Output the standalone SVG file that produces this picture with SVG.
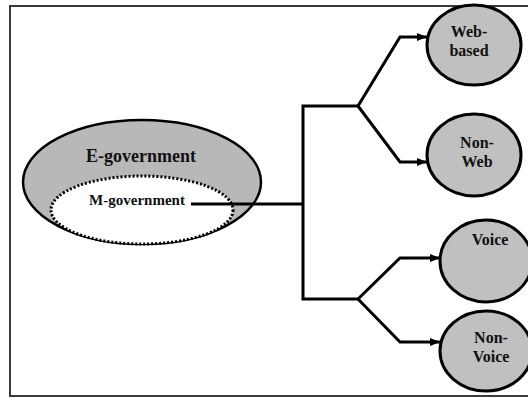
<svg xmlns="http://www.w3.org/2000/svg" width="528" height="398" viewBox="0 0 528 398">
  <defs>
    <marker id="arrow" markerWidth="10" markerHeight="8" refX="10" refY="4" orient="auto" markerUnits="userSpaceOnUse">
      <path d="M0,0 L10,4 L0,8 Z" fill="#000"/>
    </marker>
    <style>
      .frame { fill: #fff; stroke: #3a3a3a; stroke-width: 2; }
      .leaf { fill: #c0c0c0; stroke: #000; stroke-width: 3; }
      .outer { fill: #b8b8b8; stroke: #000; stroke-width: 2.5; }
      .inner { fill: #fff; stroke: #000; stroke-width: 3; stroke-dasharray: 2 2; }
      .lbl { font-family: "Liberation Serif", "Times New Roman", serif; font-weight: bold; fill: #111; text-anchor: middle; }
      .wire { fill: none; stroke: #000; stroke-width: 3; stroke-linejoin: miter; }
    </style>
  </defs>

  <rect class="frame" x="10" y="6" width="540" height="390"/>

  <g id="e-government">
    <ellipse class="outer" cx="142" cy="182" rx="119" ry="62"/>
    <text class="lbl" x="141" y="162" font-size="18">E-government</text>
  </g>

  <g id="m-government">
    <ellipse class="inner" cx="142" cy="210" rx="91" ry="34"/>
    <text class="lbl" x="137" y="205" font-size="15">M-government</text>
  </g>

  <g id="connectors">
    <!-- trunk from M-government to the two branch points -->
    <path class="wire" d="M191,204 H303"/>
    <path class="wire" d="M358,106 H303 V299 H358"/>
    <!-- upper fork -->
    <path class="wire" d="M358,106 L400,37 H427" marker-end="url(#arrow)"/>
    <path class="wire" d="M358,106 L400,162 H427" marker-end="url(#arrow)"/>
    <!-- lower fork -->
    <path class="wire" d="M358,299 L400,258 H440" marker-end="url(#arrow)"/>
    <path class="wire" d="M358,299 L400,342 H440" marker-end="url(#arrow)"/>
  </g>

  <g id="web-based">
    <ellipse class="leaf" cx="474" cy="45" rx="47" ry="40"/>
    <text class="lbl" x="469" y="37" font-size="16">Web-</text>
    <text class="lbl" x="469" y="56" font-size="16">based</text>
  </g>

  <g id="non-web">
    <ellipse class="leaf" cx="474" cy="155" rx="47" ry="41"/>
    <text class="lbl" x="477" y="148" font-size="16">Non-</text>
    <text class="lbl" x="477" y="167" font-size="16">Web</text>
  </g>

  <g id="voice">
    <ellipse class="leaf" cx="486" cy="261" rx="46" ry="41"/>
    <text class="lbl" x="490" y="245" font-size="16">Voice</text>
  </g>

  <g id="non-voice">
    <ellipse class="leaf" cx="486" cy="351" rx="46" ry="40"/>
    <text class="lbl" x="491" y="343" font-size="16">Non-</text>
    <text class="lbl" x="491" y="362" font-size="16">Voice</text>
  </g>
</svg>
